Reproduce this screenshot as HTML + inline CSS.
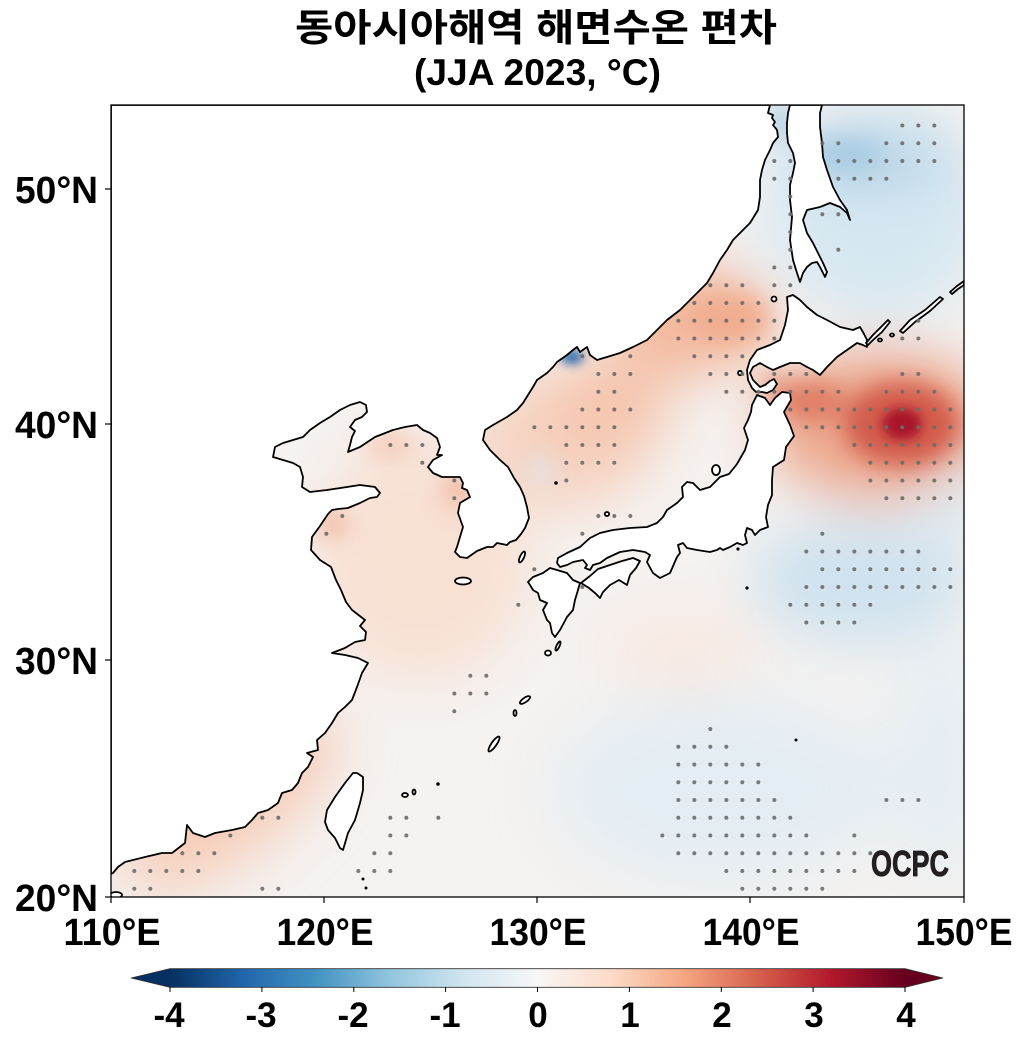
<!DOCTYPE html>
<html><head><meta charset="utf-8"><style>
html,body{margin:0;padding:0;background:#fff;}
svg{display:block;}
</style></head><body>
<svg width="1025" height="1047" viewBox="0 0 1025 1047" xmlns="http://www.w3.org/2000/svg">
<defs>
<clipPath id="plot"><rect x="111" y="105" width="853" height="792"/></clipPath>
<filter id="b1" filterUnits="userSpaceOnUse" x="0" y="0" width="1025" height="1047"><feGaussianBlur stdDeviation="28"/></filter>
<filter id="b2" filterUnits="userSpaceOnUse" x="0" y="0" width="1025" height="1047"><feGaussianBlur stdDeviation="12"/></filter>
<filter id="b3" filterUnits="userSpaceOnUse" x="0" y="0" width="1025" height="1047"><feGaussianBlur stdDeviation="5"/></filter>
<linearGradient id="cb" x1="0" x2="1" y1="0" y2="0">
<stop offset="0" stop-color="#053061"/><stop offset="0.1" stop-color="#2166ac"/><stop offset="0.2" stop-color="#4393c3"/><stop offset="0.3" stop-color="#92c5de"/><stop offset="0.4" stop-color="#d1e5f0"/><stop offset="0.5" stop-color="#f7f7f7"/><stop offset="0.6" stop-color="#fddbc7"/><stop offset="0.7" stop-color="#f4a582"/><stop offset="0.8" stop-color="#d6604d"/><stop offset="0.9" stop-color="#b2182b"/><stop offset="1" stop-color="#67001f"/>
</linearGradient>
</defs>

<!-- Title -->
<text x="536" y="41" text-anchor="middle" font-family="'Liberation Sans','Noto Sans CJK KR',sans-serif" font-weight="bold" font-size="38" textLength="482" lengthAdjust="spacingAndGlyphs" fill="#000">동아시아해역 해면수온 편차</text>
<text x="537.5" y="85" text-anchor="middle" font-family="'Liberation Sans',sans-serif" font-weight="bold" font-size="37" textLength="247" lengthAdjust="spacingAndGlyphs" fill="#000">(JJA 2023, °C)</text>

<g clip-path="url(#plot)">
<rect x="111" y="105" width="853" height="792" fill="#f5f2f0"/>
<g filter="url(#b1)">
<ellipse cx="560" cy="440" rx="90" ry="70" fill="#f6d3c1"/>
<ellipse cx="690" cy="320" rx="80" ry="55" fill="#f3b79b"/>
<ellipse cx="610" cy="405" rx="60" ry="50" fill="#f5c4ac"/>
<ellipse cx="420" cy="560" rx="110" ry="120" fill="#f8e0d3"/>
<ellipse cx="230" cy="800" rx="130" ry="55" transform="rotate(-38 230 800)" fill="#f6ccb7"/>
<ellipse cx="880" cy="210" rx="110" ry="110" fill="#d6e7f1"/>
<ellipse cx="870" cy="160" rx="80" ry="25" fill="#b2d1e5"/>
<ellipse cx="880" cy="425" rx="115" ry="75" fill="#eca68a"/>
<ellipse cx="860" cy="580" rx="110" ry="65" fill="#cfe2ee"/>
<ellipse cx="720" cy="790" rx="170" ry="100" fill="#e4edf3"/>
<ellipse cx="940" cy="760" rx="60" ry="120" fill="#e6eef3"/>
<ellipse cx="955" cy="505" rx="30" ry="40" fill="#dce9f1"/>
<ellipse cx="680" cy="650" rx="80" ry="40" fill="#f8e9e1"/>
<ellipse cx="770" cy="200" rx="25" ry="70" fill="#e3edf3"/>
</g>
<g filter="url(#b2)">
<ellipse cx="902" cy="424" rx="58" ry="42" fill="#d25a48"/>
<ellipse cx="812" cy="402" rx="34" ry="20" fill="#e07a62"/>
<ellipse cx="776" cy="386" rx="14" ry="10" fill="#e48a70"/>
<ellipse cx="780" cy="122" rx="8" ry="20" fill="#90bfdc"/>
<ellipse cx="540" cy="470" rx="12" ry="12" fill="#dbe7f0"/>
<ellipse cx="457" cy="490" rx="10" ry="16" fill="#efa688"/>
<ellipse cx="332" cy="524" rx="13" ry="11" fill="#eea182"/>
<ellipse cx="730" cy="318" rx="40" ry="25" fill="#f1ac8e"/>
<ellipse cx="845" cy="155" rx="40" ry="16" fill="#a6cbe2"/>
<ellipse cx="390" cy="445" rx="25" ry="12" fill="#f5c6ae"/>
</g>
<g filter="url(#b3)">
<ellipse cx="902" cy="424" rx="20" ry="16" fill="#a8142a"/>
<ellipse cx="572" cy="357" rx="12" ry="7" fill="#2a6aab"/>
</g>

<!-- Land -->
<g fill="#fff" stroke="#000" stroke-width="1.8" stroke-linejoin="round">
<polygon points="111,105 770,105 768,113 773,115 772,118 775,122 773,125 777,130 778,137 773,143 770,150 765,160 762,170 760,180 760,197 758,210 750,223 740,233 733,240 727,250 720,260 713,273 707,283 693,297 680,310 667,320 660,327 647,340 633,347 620,353 607,357 597,360 590,355 587,347 580,352 577,347 573,350 567,355 557,362 553,367 547,373 537,380 533,387 523,403 517,410 507,417 493,425 485,430 483,440 490,450 500,460 508,467 514,478 520,487 524,496 527,507 529,518 525,528 521,534 516,540 510,542 507,545 497,543 493,547 487,547 477,551 467,558 460,557 455,552 457,547 460,537 463,527 458,513 460,503 470,497 467,490 462,488 463,483 460,477 450,477 442,477 433,473 428,467 433,460 442,455 437,455 440,447 437,438 430,433 423,430 417,425 405,427 393,430 375,437 360,447 348,452 350,445 352,437 355,431 350,427 355,420 362,417 367,412 366,405 360,402 350,405 340,410 330,417 320,423 310,430 303,437 293,440 283,443 275,447 273,457 283,460 293,463 300,467 303,477 302,487 310,492 327,490 347,487 360,485 375,487 380,493 377,497 370,498 360,503 348,508 338,509 332,510 328,514 320,526 312,537 311,550 320,560 331,567 336,580 341,590 346,602 352,610 365,620 360,626 366,632 365,640 355,642 345,648 332,653 345,655 358,658 368,663 362,673 357,687 352,700 345,707 338,713 332,723 325,733 317,740 318,750 307,753 313,757 308,767 302,773 298,783 292,790 282,793 278,803 268,810 258,813 252,820 245,827 232,830 215,833 205,837 193,833 187,825 185,843 172,853 162,853 145,857 125,862 118,867 113,873 111,874"/>
<polygon points="790,105 788,113 787,123 787,133 788,143 793,153 795,163 793,173 790,185 790,200 792,217 790,240 793,260 797,273 800,282 803,273 807,267 812,263 817,262 820,267 825,277 827,272 823,263 820,257 813,243 807,233 803,220 807,210 820,207 830,203 840,207 847,213 850,220 847,210 840,200 833,187 827,170 823,157 822,143 820,127 820,113 822,105"/>
<polygon points="787,297 793,295 800,300 807,307 817,315 827,320 840,327 853,330 860,327 864,334 867,340 867,347 863,345 857,343 847,350 837,357 827,367 820,375 813,370 807,367 800,363 790,363 780,367 773,370 767,367 760,363 753,367 750,373 753,380 760,387 765,385 770,381 774,379 777,384 773,390 767,393 762,392 756,392 752,388 748,380 747,370 750,360 757,350 770,345 780,340 785,325 788,310"/>
<polygon points="757,395 765,398 770,405 775,398 782,392 790,393 791,400 784,412 790,425 794,436 786,447 784,460 773,467 772,480 772,495 768,505 766,517 768,527 760,530 755,535 752,530 747,528 745,535 747,543 743,545 737,543 730,547 723,550 720,548 717,550 710,552 697,550 687,548 683,543 678,545 680,553 677,557 670,573 660,578 653,573 647,562 650,555 645,552 633,550 620,552 607,558 600,563 593,565 590,570 585,568 587,565 583,560 573,562 567,565 560,567 557,563 558,558 567,553 580,547 590,538 600,533 613,530 630,528 647,527 657,523 663,517 667,510 677,503 683,497 682,487 687,482 693,483 700,490 710,487 720,477 729,474 737,464 745,450 748,440 744,428 748,420 751,412 752,405"/>
<polygon points="581,583 590,576 598,569 610,565 622,561 633,558 640,561 636,568 630,575 627,585 619,580 610,585 603,592 600,598 595,593 589,588"/>
<polygon points="557,570 567,573 573,580 580,583 578,590 575,600 573,610 567,617 560,630 555,637 552,633 550,623 547,620 543,610 547,603 540,600 538,593 533,590 530,585 528,582 533,577 543,573 550,568"/>
<polygon points="357,773 363,777 363,790 360,803 355,820 348,833 343,850 340,848 335,838 328,830 325,822 327,810 335,797 345,783 353,773"/>
<polygon points="866,343 873,335 880,328 888,320 890,322 882,332 873,340 868,345"/>
<polygon points="900,331 910,320 925,310 940,297 943,299 930,311 915,322 903,333"/>
<polygon points="950,292 957,286 964,281 964,285 958,289 952,294"/>
<ellipse cx="463" cy="581" rx="8" ry="3.5"/>
<ellipse cx="522" cy="557" rx="2" ry="6" transform="rotate(25 522 557)"/>
<ellipse cx="716" cy="470" rx="4" ry="5"/>
<ellipse cx="607" cy="514" rx="2.2" ry="2"/>
<ellipse cx="774" cy="299" rx="2.5" ry="2.5"/>
<ellipse cx="740" cy="373" rx="2" ry="2.2"/>
<ellipse cx="548" cy="653" rx="3" ry="2.5"/>
<ellipse cx="558" cy="646" rx="1.5" ry="5" transform="rotate(25 558 646)"/>
<ellipse cx="525" cy="700" rx="6" ry="2.2" transform="rotate(-35 525 700)"/>
<ellipse cx="515" cy="713" rx="1.5" ry="3"/>
<ellipse cx="494" cy="744" rx="9" ry="2.5" transform="rotate(-55 494 744)"/>
<ellipse cx="405" cy="795" rx="3" ry="2"/>
<ellipse cx="414" cy="792" rx="1.5" ry="2.5"/>
<ellipse cx="880" cy="340" rx="2" ry="1.5"/>
<ellipse cx="892" cy="335" rx="2" ry="1.5"/>
<ellipse cx="116" cy="895" rx="6" ry="3"/>
</g>
<g fill="#000">
<circle cx="556" cy="483" r="1.8"/>
<circle cx="738" cy="549" r="1.6"/>
<circle cx="747" cy="588" r="1.6"/>
<circle cx="796" cy="740" r="1.5"/>
<circle cx="438" cy="784" r="1.8"/>
<circle cx="363" cy="879" r="1.5"/>
<circle cx="366" cy="888" r="1.5"/>
</g>

<!-- stipple dots -->
<g fill="#6b6b6b" fill-opacity="0.9">
<g transform="translate(0,125.55)"><circle cx="902.3" r="2"/><circle cx="918.3" r="2"/><circle cx="934.3" r="2"/></g>
<g transform="translate(0,143.3)"><circle cx="822.3" r="2"/><circle cx="838.3" r="2"/><circle cx="886.3" r="2"/><circle cx="902.3" r="2"/><circle cx="918.3" r="2"/><circle cx="934.3" r="2"/></g>
<g transform="translate(0,161.05)"><circle cx="774.3" r="2"/><circle cx="790.3" r="2"/><circle cx="838.3" r="2"/><circle cx="854.3" r="2"/><circle cx="870.3" r="2"/><circle cx="886.3" r="2"/><circle cx="902.3" r="2"/><circle cx="918.3" r="2"/><circle cx="934.3" r="2"/></g>
<g transform="translate(0,178.8)"><circle cx="774.3" r="2"/><circle cx="790.3" r="2"/><circle cx="838.3" r="2"/><circle cx="854.3" r="2"/><circle cx="870.3" r="2"/><circle cx="886.3" r="2"/></g>
<g transform="translate(0,196.55)"><circle cx="790.3" r="2"/></g>
<g transform="translate(0,214.3)"><circle cx="790.3" r="2"/><circle cx="822.3" r="2"/><circle cx="838.3" r="2"/></g>
<g transform="translate(0,232.05)"><circle cx="790.3" r="2"/></g>
<g transform="translate(0,249.8)"><circle cx="790.3" r="2"/><circle cx="838.3" r="2"/></g>
<g transform="translate(0,267.55)"><circle cx="774.3" r="2"/><circle cx="790.3" r="2"/></g>
<g transform="translate(0,285.3)"><circle cx="710.3" r="2"/><circle cx="726.3" r="2"/><circle cx="742.3" r="2"/><circle cx="774.3" r="2"/><circle cx="790.3" r="2"/></g>
<g transform="translate(0,303.05)"><circle cx="694.3" r="2"/><circle cx="710.3" r="2"/><circle cx="726.3" r="2"/><circle cx="742.3" r="2"/><circle cx="758.3" r="2"/></g>
<g transform="translate(0,320.8)"><circle cx="678.3" r="2"/><circle cx="694.3" r="2"/><circle cx="710.3" r="2"/><circle cx="726.3" r="2"/><circle cx="742.3" r="2"/><circle cx="758.3" r="2"/><circle cx="774.3" r="2"/><circle cx="918.3" r="2"/></g>
<g transform="translate(0,338.55)"><circle cx="678.3" r="2"/><circle cx="694.3" r="2"/><circle cx="710.3" r="2"/><circle cx="726.3" r="2"/><circle cx="742.3" r="2"/><circle cx="758.3" r="2"/><circle cx="774.3" r="2"/><circle cx="902.3" r="2"/><circle cx="918.3" r="2"/></g>
<g transform="translate(0,356.3)"><circle cx="582.3" r="2"/><circle cx="630.3" r="2"/><circle cx="694.3" r="2"/><circle cx="710.3" r="2"/><circle cx="726.3" r="2"/><circle cx="742.3" r="2"/></g>
<g transform="translate(0,374.05)"><circle cx="598.3" r="2"/><circle cx="614.3" r="2"/><circle cx="630.3" r="2"/><circle cx="710.3" r="2"/><circle cx="726.3" r="2"/><circle cx="742.3" r="2"/><circle cx="774.3" r="2"/><circle cx="790.3" r="2"/><circle cx="806.3" r="2"/><circle cx="902.3" r="2"/><circle cx="918.3" r="2"/></g>
<g transform="translate(0,391.8)"><circle cx="598.3" r="2"/><circle cx="614.3" r="2"/><circle cx="726.3" r="2"/><circle cx="742.3" r="2"/><circle cx="758.3" r="2"/><circle cx="774.3" r="2"/><circle cx="790.3" r="2"/><circle cx="806.3" r="2"/><circle cx="822.3" r="2"/><circle cx="838.3" r="2"/><circle cx="886.3" r="2"/><circle cx="902.3" r="2"/><circle cx="918.3" r="2"/><circle cx="934.3" r="2"/></g>
<g transform="translate(0,409.55)"><circle cx="582.3" r="2"/><circle cx="598.3" r="2"/><circle cx="614.3" r="2"/><circle cx="630.3" r="2"/><circle cx="790.3" r="2"/><circle cx="806.3" r="2"/><circle cx="822.3" r="2"/><circle cx="838.3" r="2"/><circle cx="854.3" r="2"/><circle cx="870.3" r="2"/><circle cx="886.3" r="2"/><circle cx="902.3" r="2"/><circle cx="918.3" r="2"/><circle cx="934.3" r="2"/><circle cx="950.3" r="2"/></g>
<g transform="translate(0,427.3)"><circle cx="534.3" r="2"/><circle cx="550.3" r="2"/><circle cx="566.3" r="2"/><circle cx="582.3" r="2"/><circle cx="598.3" r="2"/><circle cx="614.3" r="2"/><circle cx="806.3" r="2"/><circle cx="822.3" r="2"/><circle cx="838.3" r="2"/><circle cx="854.3" r="2"/><circle cx="870.3" r="2"/><circle cx="886.3" r="2"/><circle cx="902.3" r="2"/><circle cx="918.3" r="2"/><circle cx="934.3" r="2"/><circle cx="950.3" r="2"/></g>
<g transform="translate(0,445.05)"><circle cx="390.3" r="2"/><circle cx="406.3" r="2"/><circle cx="422.3" r="2"/><circle cx="566.3" r="2"/><circle cx="582.3" r="2"/><circle cx="598.3" r="2"/><circle cx="614.3" r="2"/><circle cx="854.3" r="2"/><circle cx="870.3" r="2"/><circle cx="886.3" r="2"/><circle cx="902.3" r="2"/><circle cx="918.3" r="2"/><circle cx="934.3" r="2"/><circle cx="950.3" r="2"/></g>
<g transform="translate(0,462.8)"><circle cx="422.3" r="2"/><circle cx="566.3" r="2"/><circle cx="582.3" r="2"/><circle cx="598.3" r="2"/><circle cx="614.3" r="2"/><circle cx="870.3" r="2"/><circle cx="886.3" r="2"/><circle cx="902.3" r="2"/><circle cx="918.3" r="2"/><circle cx="934.3" r="2"/><circle cx="950.3" r="2"/></g>
<g transform="translate(0,480.55)"><circle cx="454.3" r="2"/><circle cx="566.3" r="2"/><circle cx="870.3" r="2"/><circle cx="886.3" r="2"/><circle cx="902.3" r="2"/><circle cx="918.3" r="2"/><circle cx="934.3" r="2"/><circle cx="950.3" r="2"/></g>
<g transform="translate(0,498.3)"><circle cx="454.3" r="2"/><circle cx="886.3" r="2"/><circle cx="902.3" r="2"/><circle cx="918.3" r="2"/><circle cx="934.3" r="2"/><circle cx="950.3" r="2"/></g>
<g transform="translate(0,516.05)"><circle cx="342.3" r="2"/><circle cx="598.3" r="2"/><circle cx="614.3" r="2"/><circle cx="630.3" r="2"/></g>
<g transform="translate(0,533.8)"><circle cx="326.3" r="2"/><circle cx="582.3" r="2"/><circle cx="822.3" r="2"/></g>
<g transform="translate(0,551.55)"><circle cx="806.3" r="2"/><circle cx="822.3" r="2"/><circle cx="838.3" r="2"/><circle cx="854.3" r="2"/><circle cx="870.3" r="2"/><circle cx="886.3" r="2"/><circle cx="902.3" r="2"/><circle cx="918.3" r="2"/></g>
<g transform="translate(0,569.3)"><circle cx="534.3" r="2"/><circle cx="822.3" r="2"/><circle cx="838.3" r="2"/><circle cx="854.3" r="2"/><circle cx="870.3" r="2"/><circle cx="886.3" r="2"/><circle cx="902.3" r="2"/><circle cx="918.3" r="2"/><circle cx="934.3" r="2"/><circle cx="950.3" r="2"/></g>
<g transform="translate(0,587.05)"><circle cx="582.3" r="2"/><circle cx="806.3" r="2"/><circle cx="822.3" r="2"/><circle cx="838.3" r="2"/><circle cx="854.3" r="2"/><circle cx="870.3" r="2"/><circle cx="886.3" r="2"/><circle cx="902.3" r="2"/><circle cx="918.3" r="2"/><circle cx="934.3" r="2"/><circle cx="950.3" r="2"/></g>
<g transform="translate(0,604.8)"><circle cx="518.3" r="2"/><circle cx="790.3" r="2"/><circle cx="806.3" r="2"/><circle cx="822.3" r="2"/><circle cx="838.3" r="2"/><circle cx="854.3" r="2"/><circle cx="870.3" r="2"/></g>
<g transform="translate(0,622.55)"><circle cx="806.3" r="2"/><circle cx="822.3" r="2"/><circle cx="838.3" r="2"/><circle cx="854.3" r="2"/></g>
<g transform="translate(0,675.8)"><circle cx="470.3" r="2"/><circle cx="486.3" r="2"/></g>
<g transform="translate(0,693.55)"><circle cx="454.3" r="2"/><circle cx="470.3" r="2"/><circle cx="486.3" r="2"/></g>
<g transform="translate(0,711.3)"><circle cx="454.3" r="2"/></g>
<g transform="translate(0,729.05)"><circle cx="710.3" r="2"/></g>
<g transform="translate(0,746.8)"><circle cx="678.3" r="2"/><circle cx="694.3" r="2"/><circle cx="710.3" r="2"/><circle cx="726.3" r="2"/></g>
<g transform="translate(0,764.55)"><circle cx="678.3" r="2"/><circle cx="694.3" r="2"/><circle cx="710.3" r="2"/><circle cx="726.3" r="2"/><circle cx="742.3" r="2"/><circle cx="758.3" r="2"/></g>
<g transform="translate(0,782.3)"><circle cx="678.3" r="2"/><circle cx="694.3" r="2"/><circle cx="710.3" r="2"/><circle cx="726.3" r="2"/><circle cx="742.3" r="2"/><circle cx="758.3" r="2"/></g>
<g transform="translate(0,800.05)"><circle cx="678.3" r="2"/><circle cx="694.3" r="2"/><circle cx="710.3" r="2"/><circle cx="726.3" r="2"/><circle cx="742.3" r="2"/><circle cx="758.3" r="2"/><circle cx="774.3" r="2"/><circle cx="886.3" r="2"/><circle cx="902.3" r="2"/><circle cx="918.3" r="2"/></g>
<g transform="translate(0,817.8)"><circle cx="262.3" r="2"/><circle cx="278.3" r="2"/><circle cx="390.3" r="2"/><circle cx="406.3" r="2"/><circle cx="438.3" r="2"/><circle cx="678.3" r="2"/><circle cx="694.3" r="2"/><circle cx="710.3" r="2"/><circle cx="726.3" r="2"/><circle cx="742.3" r="2"/><circle cx="758.3" r="2"/><circle cx="774.3" r="2"/><circle cx="790.3" r="2"/></g>
<g transform="translate(0,835.55)"><circle cx="230.3" r="2"/><circle cx="390.3" r="2"/><circle cx="406.3" r="2"/><circle cx="662.3" r="2"/><circle cx="678.3" r="2"/><circle cx="694.3" r="2"/><circle cx="710.3" r="2"/><circle cx="726.3" r="2"/><circle cx="742.3" r="2"/><circle cx="758.3" r="2"/><circle cx="774.3" r="2"/><circle cx="790.3" r="2"/><circle cx="806.3" r="2"/><circle cx="854.3" r="2"/></g>
<g transform="translate(0,853.3)"><circle cx="182.3" r="2"/><circle cx="198.3" r="2"/><circle cx="214.3" r="2"/><circle cx="374.3" r="2"/><circle cx="390.3" r="2"/><circle cx="678.3" r="2"/><circle cx="694.3" r="2"/><circle cx="710.3" r="2"/><circle cx="726.3" r="2"/><circle cx="742.3" r="2"/><circle cx="758.3" r="2"/><circle cx="774.3" r="2"/><circle cx="790.3" r="2"/><circle cx="806.3" r="2"/><circle cx="822.3" r="2"/><circle cx="838.3" r="2"/><circle cx="854.3" r="2"/><circle cx="870.3" r="2"/></g>
<g transform="translate(0,871.05)"><circle cx="134.3" r="2"/><circle cx="150.3" r="2"/><circle cx="166.3" r="2"/><circle cx="182.3" r="2"/><circle cx="198.3" r="2"/><circle cx="358.3" r="2"/><circle cx="374.3" r="2"/><circle cx="390.3" r="2"/><circle cx="726.3" r="2"/><circle cx="742.3" r="2"/><circle cx="758.3" r="2"/><circle cx="774.3" r="2"/><circle cx="790.3" r="2"/><circle cx="806.3" r="2"/><circle cx="822.3" r="2"/><circle cx="838.3" r="2"/><circle cx="854.3" r="2"/></g>
<g transform="translate(0,888.8)"><circle cx="134.3" r="2"/><circle cx="150.3" r="2"/><circle cx="262.3" r="2"/><circle cx="278.3" r="2"/><circle cx="742.3" r="2"/><circle cx="758.3" r="2"/><circle cx="774.3" r="2"/><circle cx="790.3" r="2"/><circle cx="806.3" r="2"/><circle cx="822.3" r="2"/></g>
</g>

<!-- OCPC logo -->
<text x="871" y="876" font-family="'Liberation Sans',sans-serif" font-weight="bold" font-size="36" textLength="78" lengthAdjust="spacingAndGlyphs" fill="#231f20" stroke="#231f20" stroke-width="0.8">OCPC</text>
</g>

<!-- Frame -->
<rect x="111" y="105" width="853" height="792" fill="none" stroke="#000" stroke-width="1.3"/>
<g stroke="#000" stroke-width="1.2">
<line x1="111" y1="897" x2="111" y2="903"/><line x1="324" y1="897" x2="324" y2="903"/><line x1="537" y1="897" x2="537" y2="903"/><line x1="750" y1="897" x2="750" y2="903"/><line x1="964" y1="897" x2="964" y2="903"/>
<line x1="105" y1="189" x2="111" y2="189"/><line x1="105" y1="424" x2="111" y2="424"/><line x1="105" y1="660" x2="111" y2="660"/><line x1="105" y1="897" x2="111" y2="897"/>
</g>

<!-- Axis labels -->
<g font-family="'Liberation Sans',sans-serif" font-weight="bold" font-size="38" fill="#000">
<text x="112" y="945" text-anchor="middle" textLength="97" lengthAdjust="spacingAndGlyphs">110°E</text>
<text x="325" y="945" text-anchor="middle" textLength="97" lengthAdjust="spacingAndGlyphs">120°E</text>
<text x="538" y="945" text-anchor="middle" textLength="97" lengthAdjust="spacingAndGlyphs">130°E</text>
<text x="751" y="945" text-anchor="middle" textLength="97" lengthAdjust="spacingAndGlyphs">140°E</text>
<text x="964" y="945" text-anchor="middle" textLength="97" lengthAdjust="spacingAndGlyphs">150°E</text>
<text x="98" y="203" text-anchor="end" textLength="83" lengthAdjust="spacingAndGlyphs">50°N</text>
<text x="98" y="438" text-anchor="end" textLength="83" lengthAdjust="spacingAndGlyphs">40°N</text>
<text x="98" y="674" text-anchor="end" textLength="83" lengthAdjust="spacingAndGlyphs">30°N</text>
<text x="98" y="911" text-anchor="end" textLength="83" lengthAdjust="spacingAndGlyphs">20°N</text>
</g>

<!-- Colorbar -->
<polygon points="170,968.7 131,978 170,987.3" fill="#053061"/>
<polygon points="905,968.7 943,978 905,987.3" fill="#67001f"/>
<rect x="170" y="968.7" width="735" height="18.6" fill="url(#cb)"/>
<polygon points="170,968.7 131,978 170,987.3 905,987.3 943,978 905,968.7" fill="none" stroke="#333" stroke-width="0.8"/>
<g stroke="#000" stroke-width="1">
<line x1="170" y1="987" x2="170" y2="992"/><line x1="261.9" y1="987" x2="261.9" y2="992"/><line x1="353.8" y1="987" x2="353.8" y2="992"/><line x1="445.6" y1="987" x2="445.6" y2="992"/><line x1="537.5" y1="987" x2="537.5" y2="992"/><line x1="629.4" y1="987" x2="629.4" y2="992"/><line x1="721.3" y1="987" x2="721.3" y2="992"/><line x1="813.1" y1="987" x2="813.1" y2="992"/><line x1="905" y1="987" x2="905" y2="992"/>
</g>
<g font-family="'Liberation Sans',sans-serif" font-weight="bold" font-size="35" fill="#000" text-anchor="middle">
<text x="169" y="1027">-4</text>
<text x="261" y="1027">-3</text>
<text x="353" y="1027">-2</text>
<text x="445" y="1027">-1</text>
<text x="538" y="1027">0</text>
<text x="630" y="1027">1</text>
<text x="722" y="1027">2</text>
<text x="814" y="1027">3</text>
<text x="906" y="1027">4</text>
</g>
</svg>
</body></html>
